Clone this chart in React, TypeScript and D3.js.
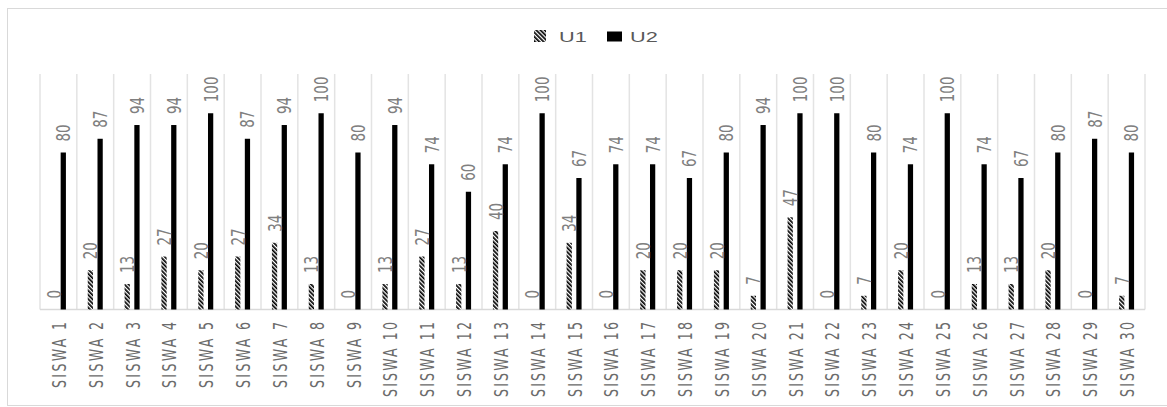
import React from 'react';
import * as d3 from 'd3';

const categories = Array.from({ length: 30 }, (_, i) => `SISWA ${i + 1}`);
const seriesNames = ['U1', 'U2'];
const u1Values = [0, 20, 13, 27, 20, 27, 34, 13, 0, 13, 27, 13, 40, 0, 34, 0, 20, 20, 20, 7, 47, 0, 7, 20, 0, 13, 13, 20, 0, 7];
const u2Values = [80, 87, 94, 94, 100, 87, 94, 100, 80, 94, 74, 60, 74, 100, 67, 74, 74, 67, 80, 94, 100, 100, 80, 74, 100, 74, 67, 80, 87, 80];

const W = 1167;
const H = 407;
const plot = { left: 40, right: 1145, top: 74, bottom: 309.5 };

const App = () => {
  // Scales
  const x = d3.scaleBand().domain(categories).range([plot.left, plot.right]).padding(0);
  const sub = d3.scaleBand().domain(seriesNames).range([-7.5, 7.5]).paddingInner(0.46);
  const y = d3.scaleLinear().domain([0, 120]).range([plot.bottom, plot.top]);

  const series = [
    { name: 'U1', values: u1Values, fill: 'url(#hatchU1)' },
    { name: 'U2', values: u2Values, fill: '#000' },
  ];

  const labelFont = '"DejaVu Sans Condensed", "Liberation Sans Narrow", sans-serif';
  const sx = 1.35; // horizontal stretch seen in the picture

  return (
    <svg width={W} height={H} style={{ position: 'absolute', left: 0, top: 0, background: '#fff' }}>
      <defs>
        <pattern id="hatchU1" patternUnits="userSpaceOnUse" width={3} height={3} patternTransform="rotate(-45)">
          <rect width={3} height={3} fill="#fff" />
          <rect width={1.7} height={3} fill="#000" />
        </pattern>
      </defs>

      {/* chart border */}
      <rect x={7.5} y={8.5} width={W} height={397} fill="none" stroke="#d9d9d9" strokeWidth={1} />

      {/* vertical gridlines at category boundaries */}
      {categories.map((c, i) => (
        <line key={`g${i}`} x1={x(c)!} x2={x(c)!} y1={plot.top} y2={plot.bottom} stroke="#e3e3e3" strokeWidth={1.5} />
      ))}
      <line x1={plot.right} x2={plot.right} y1={plot.top} y2={plot.bottom} stroke="#e3e3e3" strokeWidth={1.5} />

      {/* baseline */}
      <line x1={plot.left} x2={plot.right} y1={plot.bottom} y2={plot.bottom} stroke="#d9d9d9" strokeWidth={1.5} />

      {/* bars */}
      {series.map(s =>
        categories.map((c, i) => {
          const cx = x(c)! + x.bandwidth() / 2;
          const bx = cx + sub(s.name)!;
          const v = s.values[i];
          return (
            <rect key={`${s.name}${i}`} x={bx} y={y(v)} width={sub.bandwidth()} height={plot.bottom - y(v)} fill={s.fill} />
          );
        })
      )}

      {/* value labels */}
      {series.map(s =>
        categories.map((c, i) => {
          const cx = x(c)! + x.bandwidth() / 2 + sub(s.name)! + sub.bandwidth() / 2;
          const v = s.values[i];
          return (
            <text
              key={`l${s.name}${i}`}
              transform={`translate(${cx + 7},${y(v) - 11}) scale(${sx},1) rotate(-90)`}
              fontFamily={labelFont}
              fontSize={15}
              fill="#7f7f7f"
              textAnchor="start"
            >
              {v}
            </text>
          );
        })
      )}

      {/* category labels */}
      {categories.map((c, i) => {
        const cx = x(c)! + x.bandwidth() / 2;
        return (
          <text
            key={`c${i}`}
            transform={`translate(${cx + 7.5},${322}) scale(${sx},1) rotate(-90)`}
            fontFamily={labelFont}
            fontSize={14}
            textLength={i < 9 ? 66 : 75}
            lengthAdjust="spacing"
            fill="#6b6b6b"
            textAnchor="end"
          >
            {c}
          </text>
        );
      })}

      {/* legend */}
      <g>
        <rect x={534} y={30} width={12} height={12} fill="url(#hatchU1)" />
        <text transform={`translate(559,42) scale(1.45,1)`} fontFamily='"Liberation Sans", sans-serif' fontSize={15} fill="#595959">U1</text>
        <rect x={607} y={31.5} width={15} height={10} fill="#000" />
        <text transform={`translate(630,42) scale(1.45,1)`} fontFamily='"Liberation Sans", sans-serif' fontSize={15} fill="#595959">U2</text>
      </g>
    </svg>
  );
};

export default App;
